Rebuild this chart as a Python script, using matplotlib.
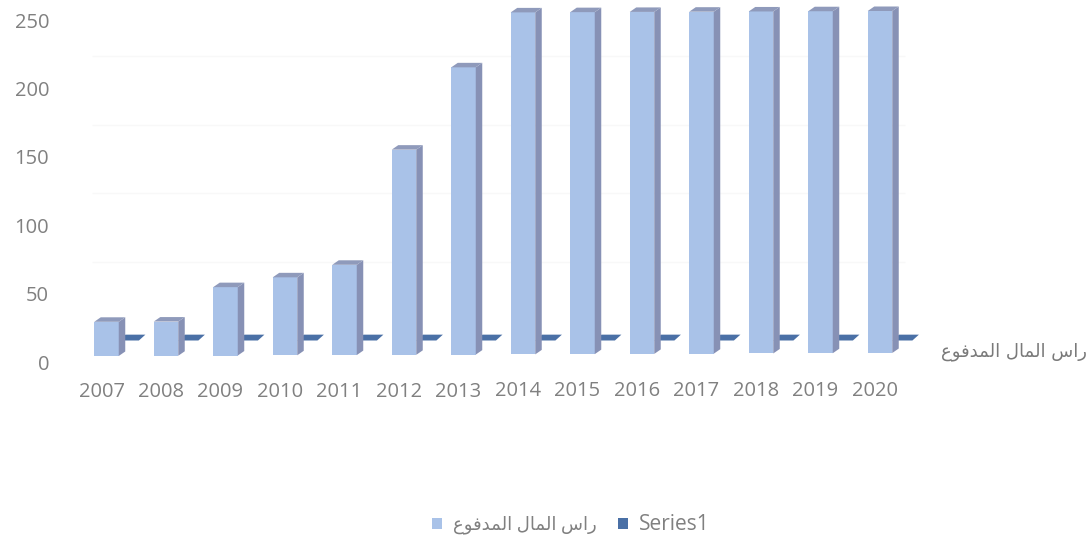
import numpy as np
import matplotlib
matplotlib.use("Agg")
import matplotlib.pyplot as plt
from matplotlib.patches import Polygon, Patch
from matplotlib.transforms import ScaledTranslation

years = ["2007","2008","2009","2010","2011","2012","2013","2014","2015","2016","2017","2018","2019","2020"]
paid_capital = [25, 25, 50, 57, 66, 150, 210, 250, 250, 250, 250, 250, 250, 250]
series1 = [0]*14
y_ticks = [0, 50, 100, 150, 200, 250]
# Arabic in visual order with presentation forms: "راس المال المدفوع"
ar_label = "\ufec9\ufeee\ufed3\ufeaa\ufee4\ufedf\ufe8d \ufedd\ufe8e\ufee4\ufedf\ufe8d \ufeb1\ufe8d\ufead"

plt.rcParams['font.family'] = ['Open Sans', 'DejaVu Sans']
W, H = 1090, 538
fig = plt.figure(figsize=(W/100, H/100), dpi=100, facecolor='white')
L, R, T, B = 90, 905, 5, 356
ax = fig.add_axes([L/W, 1-B/H, (R-L)/W, (B-T)/H])
sx, sy = 59.5, 1.368
ax.set_xlim((L-106.5)/sx, (R-106.5)/sx)
ax.set_ylim(0, (B-T)/sy)
for s in ax.spines.values():
    s.set_visible(False)
ax.patch.set_alpha(0)

x = np.arange(len(years))
lift = x*(3/13)/sy
front, side, top, dark = '#A9C2E8', '#8791B5', '#8F9ABB', '#4A70A6'
dx, dy = 6.5/sx, 4.5/sy
w = 24.5/sx

def px(t):
    return ScaledTranslation(t[0]/100, t[1]/100, fig.dpi_scale_trans)

# back wall gridlines
ax.hlines(y_ticks[1:], -0.25, (R-106.5)/sx, color='#F8F8F8', lw=1, zorder=0,
          transform=ax.transData + px((0, 26)), clip_on=False)

# Series1: zero-height bars standing behind
for xi, v in zip(x, series1):
    sw = 20/sx
    cx = xi + 25/sx
    b = v + 15.5/sy
    ax.add_patch(Polygon([(cx-sw/2-dx*0.4, b), (cx+sw/2-dx*0.4, b),
                          (cx+sw/2+dx*0.6, b+1.3*dy), (cx-sw/2+dx*0.6, b+1.3*dy)],
                         closed=True, fc=dark, ec='none', zorder=1, clip_on=False))

ax.bar(x, paid_capital, width=w, bottom=lift, color=front, zorder=2, clip_on=False)
for xi, v, l in zip(x, paid_capital, lift):
    r = xi + w/2
    le = xi - w/2
    t = v + l
    ax.add_patch(Polygon([(r, l), (r+dx, l+dy), (r+dx, t+dy), (r, t)], closed=True,
                         fc=side, ec='none', zorder=3, clip_on=False))
    ax.add_patch(Polygon([(le, t), (r, t), (r+dx, t+dy), (le+dx, t+dy)], closed=True,
                         fc=top, ec='none', zorder=3, clip_on=False))

ax.set_yticks(y_ticks)
ax.set_xticks(x, years)
ax.tick_params(axis='both', length=0, colors='#808080', labelsize=14.5)
ax.tick_params(axis='y', pad=29.5)
ax.tick_params(axis='x', pad=19)
for lab in ax.get_yticklabels():
    lab.set_transform(lab.get_transform() + px((0, -6)))
for lab, l in zip(ax.get_xticklabels(), lift):
    lab.set_transform(lab.get_transform() + px((-5, l*sy*0.6)))

fig.text(1087/W, 1-352/H, ar_label, ha='right', va='center', fontsize=13,
         color='#7A7A7A', family=['DejaVu Sans'])

handles = [Patch(fc=front, label=ar_label), Patch(fc=dark, label='Series1')]
leg = fig.legend(handles=handles, loc='center', bbox_to_anchor=(571/W, 1-524/H), ncol=2,
                 frameon=False, fontsize=13, handlelength=0.55, handleheight=0.55,
                 handletextpad=0.6, columnspacing=1.2, labelcolor='#808080')
leg.get_texts()[1].set_fontsize(15)
fig.savefig('out.png', dpi=100)
